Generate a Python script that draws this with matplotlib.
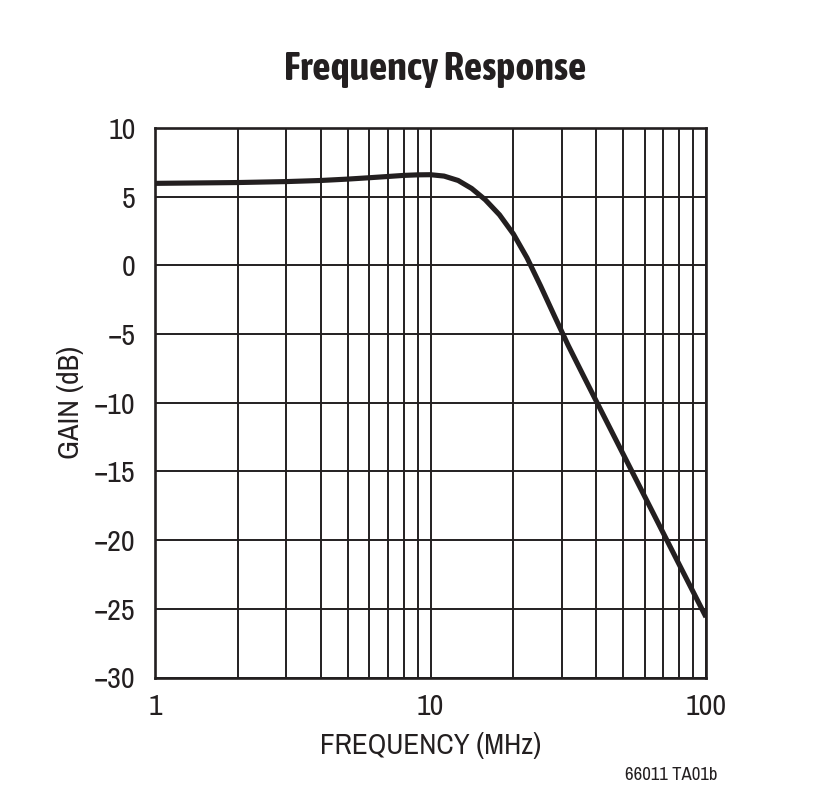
import matplotlib
matplotlib.use("Agg")
import matplotlib.pyplot as plt
from matplotlib import font_manager as fm
import numpy as np

freq_mhz = [1, 2, 3, 4, 5, 6, 7, 8, 9, 10, 11.2, 12.6, 14.1, 15.8, 17.8, 20.0,
            22.4, 25.1, 28.2, 31.6, 35.5, 39.8, 50.1, 63.1, 79.4, 100]
gain_db = [5.97, 6.03, 6.1, 6.18, 6.28, 6.38, 6.47, 6.55, 6.59, 6.6, 6.5, 6.18,
           5.6, 4.78, 3.68, 2.28, 0.55, -1.5, -3.7, -5.82, -7.84, -9.81, -13.76,
           -17.71, -21.66, -25.6]
x_ticks = [1, 10, 100]
x_tick_labels = ["1", "10", "100"]
y_ticks = [10, 5, 0, -5, -10, -15, -20, -25, -30]

# prefer a condensed sans face if one is installed
cond = {}
for f in fm.fontManager.ttflist:
    if ("Narrow" in f.name or "Condensed" in f.name) and "Mono" not in f.name:
        w = f.weight if isinstance(f.weight, int) else (700 if 'bold' in str(f.weight).lower() else 400)
        cond.setdefault(f.name, set()).add(w)
fam = "Liberation Sans"
bold_fam = "Liberation Sans"
if cond:
    names = sorted(cond)
    regular = [n for n in names if any(350 <= w <= 500 for w in cond[n])]
    fam = regular[0] if regular else names[0]
    bolds = [n for n in names if any(w >= 700 for w in cond[n])]
    if fam in bolds:
        bold_fam = fam
    elif bolds:
        bold_fam = bolds[0]
    else:
        bold_fam = fam
plt.rcParams['font.family'] = [fam, 'Liberation Sans', 'DejaVu Sans']

ink = '#231f20'
fig = plt.figure(figsize=(8.15, 8.10), dpi=100)
ax = fig.add_axes([155/815, 1 - 677.5/810, 551/815, 549.5/810])

ax.set_xscale('log')
ax.set_xlim(1, 100)
ax.set_ylim(-30, 10)

ax.plot(freq_mhz, gain_db, color=ink, lw=3.7, solid_capstyle='butt',
        solid_joinstyle='round', zorder=3)

ax.set_xticks(x_ticks)
ax.set_xticklabels(x_tick_labels)
ax.set_yticks(y_ticks)
ax.set_yticklabels([("\u2212" + str(-v)) if v < 0 else str(v) for v in y_ticks])
ax.xaxis.set_minor_locator(matplotlib.ticker.LogLocator(base=10, subs=np.arange(2, 10)))
ax.xaxis.set_minor_formatter(matplotlib.ticker.NullFormatter())

ax.grid(True, which='major', color=ink, lw=1.4)
ax.grid(True, which='minor', axis='x', color=ink, lw=1.4)
ax.tick_params(which='both', length=0)
ax.tick_params(axis='x', pad=11, labelsize=21.5, colors=ink)
ax.tick_params(axis='y', pad=14, labelsize=21.5, colors=ink)
for s in ax.spines.values():
    s.set_linewidth(1.9)
    s.set_color(ink)

ax.set_xlabel("FREQUENCY (MHz)", fontsize=21, color=ink, labelpad=9)
ax.set_ylabel("GAIN (dB)", fontsize=21.5, color=ink, labelpad=7)

fig.text(435/815, 1 - 80/810, "Frequency Response", ha='center', va='baseline',
         fontsize=29, fontweight='bold', color=ink,
         family=[bold_fam, 'Liberation Sans', 'DejaVu Sans'])
fig.text(717/815, 1 - 775/810, "66011 TA01b", ha='right', va='center',
         fontsize=13.5, color=ink)

fig.savefig("out.png", dpi=100)
